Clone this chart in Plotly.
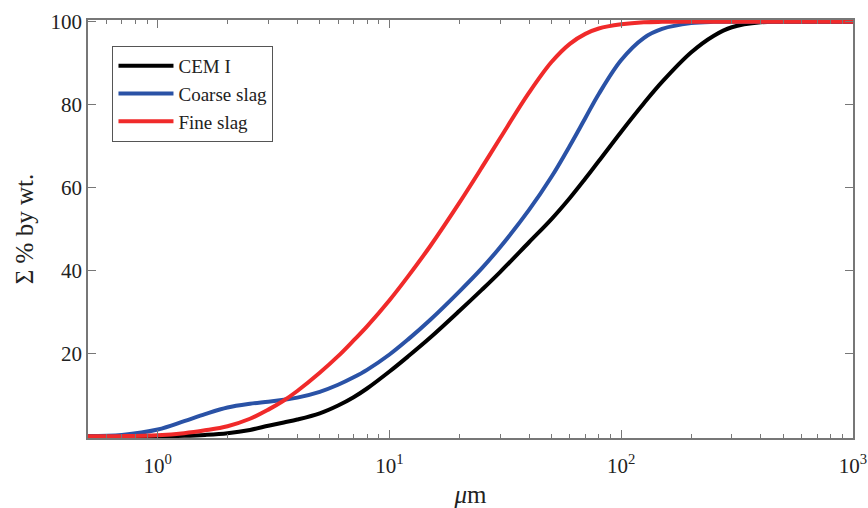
import plotly.graph_objects as go

# particle size (um) and cumulative passing (% by wt.)
size_um = [0.5, 0.7, 1, 1.3, 1.6, 2, 2.5, 3, 3.5, 4, 5, 6, 7, 8, 10, 12, 15, 20,
           25, 30, 40, 50, 60, 70, 80, 100, 125, 150, 200, 250, 300, 400, 500, 1000]

cem_i = [0, 0, 0, 0.1, 0.3, 0.7, 1.5, 2.5, 3.3, 4.0, 5.5, 7.4, 9.4, 11.5, 15.6, 19.2,
         23.8, 30.2, 35.3, 39.6, 46.8, 52.4, 57.5, 62.2, 66.4, 73.5, 80.3, 85.5, 92.6,
         96.6, 98.7, 99.9, 100, 100]

coarse_slag = [0, 0.3, 1.6, 3.6, 5.3, 6.9, 7.8, 8.3, 8.8, 9.3, 10.7, 12.4, 14.2, 16.0,
               19.7, 23.3, 28.1, 34.9, 40.5, 45.6, 54.6, 62.6, 70.1, 76.8, 82.6, 90.8,
               96.1, 98.3, 99.7, 100, 100, 100, 100, 100]

fine_slag = [0, 0, 0.2, 0.7, 1.4, 2.4, 4.2, 6.4, 8.6, 10.9, 15.3, 19.3, 23.1, 26.5,
             32.8, 38.5, 45.9, 56.3, 64.8, 71.9, 82.9, 90.3, 94.7, 97.1, 98.4, 99.4,
             99.9, 100, 100, 100, 100, 100, 100, 100]

series = [("CEM I", cem_i, "#000000"),
          ("Coarse slag", coarse_slag, "#2a52a6"),
          ("Fine slag", fine_slag, "#f02a2a")]

x_ticks = [1, 10, 100, 1000]
x_ticktext = ["10<sup>0</sup>", "10<sup>1</sup>", "10<sup>2</sup>", "10<sup>3</sup>"]
x_minor = [m * d for d in [0.1, 1, 10, 100] for m in range(2, 10) if 0.5 <= m * d < 1000]
y_ticks = [20, 40, 60, 80, 100]

fig = go.Figure()
for name, vals, color in series:
    fig.add_trace(go.Scatter(x=size_um, y=vals, name=name, mode="lines",
                             line=dict(color=color, width=4, shape="spline", smoothing=1.0)))

axis_font = dict(family="Liberation Serif", size=21, color="#222222")
fig.update_layout(
    width=868, height=508,
    margin=dict(l=88, r=15, t=20, b=70),
    paper_bgcolor="white", plot_bgcolor="white",
    font=axis_font,
    showlegend=True,
    legend=dict(x=0.032, y=0.938, xanchor="left", yanchor="top",
                bordercolor="#555555", borderwidth=1, bgcolor="white",
                font=dict(family="Liberation Serif", size=19, color="#222222"),
                tracegroupgap=0, itemwidth=55),
)
fig.update_xaxes(
    type="log", range=[-0.301, 3], automargin=False,
    tickvals=x_ticks, ticktext=x_ticktext, ticklabelstandoff=8,
    ticks="inside", ticklen=8, tickcolor="#777777", tickwidth=1.2,
    minor=dict(tickvals=x_minor, ticks="inside", ticklen=4, tickcolor="#777777", tickwidth=1),
    showline=True, linecolor="#777777", linewidth=1.5, mirror="ticks",
    showgrid=False, zeroline=False,
    title=dict(text="<i>μ</i>m", standoff=14),
)
# a little headroom so the 0 % and 100 % plateaus are not cut in half by the frame
fig.update_yaxes(
    range=[-0.45, 100.45], tickvals=y_ticks, automargin=False,
    ticks="inside", ticklen=8, tickcolor="#777777", tickwidth=1.2,
    showline=True, linecolor="#777777", linewidth=1.5, mirror="ticks",
    showgrid=False, zeroline=False,
    title=dict(text="Σ % by wt.", standoff=10),
)

# drop the page's default body margin so the figure sits at the window's corner
fig.write_html("out.html", config={"displayModeBar": False},
               post_script="document.body.style.margin='0px';")
